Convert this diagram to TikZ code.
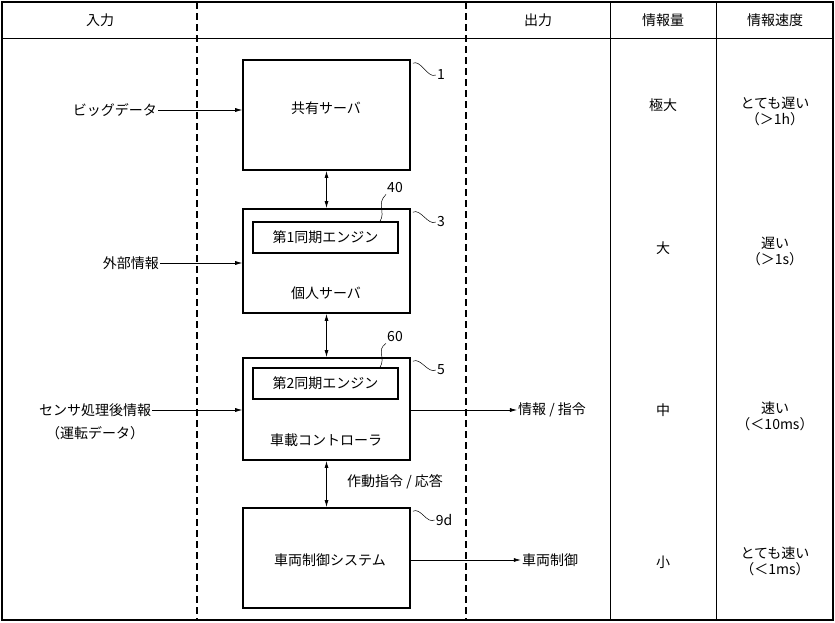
\documentclass[tikz,border=0pt]{standalone}
\usepackage{fontspec}
\setmainfont{Noto Sans CJK JP}
\usetikzlibrary{arrows.meta}
\tikzset{
  blk/.style={draw,line width=1.6pt,minimum width=167pt,inner sep=0pt},
  eng/.style={draw,line width=1.4pt,minimum width=145pt,minimum height=31pt,inner sep=0pt,font=\fontsize{14}{16}\selectfont},
  txt/.style={inner sep=1pt,font=\fontsize{14}{16}\selectfont},
  arr/.style={-{Latex[length=7pt,width=4pt]},line width=0.6pt},
  darr/.style={{Latex[length=7pt,width=4pt]}-{Latex[length=7pt,width=4pt]},line width=0.9pt},
  lead/.style={line width=0.5pt}
}
\begin{document}
\begin{tikzpicture}[x=1pt,y=-1pt]
\useasboundingbox (0,0) rectangle (835,622);
% table frame
\draw[line width=1.4pt] (2,2) rectangle (833,620);
\draw[line width=1pt] (2,38) -- (833,38);
\draw[line width=1.2pt,dash pattern=on 7pt off 4pt] (197,2) -- (197,620);
\draw[line width=1.2pt,dash pattern=on 7pt off 4pt] (466,2) -- (466,620);
\draw[line width=1pt] (610,2) -- (610,620);
\draw[line width=1pt] (716,2) -- (716,620);
% header
\node[txt] (hin) at (100,20) {入力};
\node[txt] (hout) at (538,20) {出力};
\node[txt] (hqty) at (663,20) {情報量};
\node[txt] (hspd) at (775,20) {情報速度};
% blocks
\node[blk,minimum height=110pt] (srv1) at (326.5,115) {};
\node[txt] at (326,108) {共有サーバ};
\node[blk,minimum height=104pt] (srv2) at (326.5,261) {};
\node[eng] (eng1) at (325.5,237.5) {第1同期エンジン};
\node[txt] at (326,293) {個人サーバ};
\node[blk,minimum height=102pt] (ecu) at (326.5,409) {};
\node[eng] (eng2) at (325.5,383.5) {第2同期エンジン};
\node[txt] at (326,440) {車載コントローラ};
\node[blk,minimum height=100pt] (vcs) at (326.5,558) {};
\node[txt] at (330,560) {車両制御システム};
% reference numbers
\node[txt] (n1) at (441,75) {1};
\node[txt] (n40) at (395,188) {40};
\node[txt] (n3) at (441,222) {3};
\node[txt] (n60) at (395,337) {60};
\node[txt] (n5) at (441,370) {5};
\node[txt] (n9d) at (444,520) {9d};
\draw[lead] (srv1.north east) ++(2,4) .. controls +(8,-4) and +(-8,4) .. (n1.west);
\draw[lead] (srv2.north east) ++(2,4) .. controls +(8,-4) and +(-8,4) .. (n3.west);
\draw[lead] (ecu.north east) ++(2,4) .. controls +(8,-4) and +(-8,4) .. (n5.west);
\draw[lead] (vcs.north east) ++(2,4) .. controls +(8,-4) and +(-8,4) .. (n9d.west);
\draw[lead] (eng1.north -| 380,0) .. controls (386,212) and (376,204) .. (n40.south west);
\draw[lead] (eng2.north -| 380,0) .. controls (386,358) and (376,350) .. (n60.south west);
% inputs
\node[txt,anchor=east] (big) at (158,110) {ビッグデータ};
\node[txt,anchor=east] (ext) at (160,263) {外部情報};
\node[txt] (sen) at (95,410) {センサ処理後情報};
\node[txt] (drv) at (95,433) {（運転データ）};
\draw[arr] (big.east) -- (srv1.west |- big.east);
\draw[arr] (ext.east) -- (srv2.west |- ext.east);
\draw[arr] (sen.east) -- (ecu.west |- sen.east);
% links between blocks
\draw[darr] (srv1.south) -- (srv2.north);
\draw[darr] (srv2.south) -- (ecu.north);
\draw[darr] (ecu.south) -- (vcs.north);
\node[txt] (cmd) at (395,482) {作動指令 / 応答};
% outputs
\node[txt] (out1) at (552,410) {情報 / 指令};
\node[txt] (out2) at (550,560) {車両制御};
\draw[arr] (ecu.east |- out1) -- (out1.west);
\draw[arr] (vcs.east |- out2) -- (out2.west);
% quantity and speed
\node[txt] (q1) at (663,105) {極大};
\node[txt] (q2) at (663,248) {大};
\node[txt] (q3) at (663,410) {中};
\node[txt] (q4) at (663,562) {小};
\node[txt,align=center] (s1) at (775,111) {とても遅い\\（＞1h）};
\node[txt,align=center] (s2) at (775,251) {遅い\\（＞1s）};
\node[txt,align=center] (s3) at (775,416) {速い\\（＜10ms）};
\node[txt,align=center] (s4) at (775,561) {とても速い\\（＜1ms）};
\end{tikzpicture}
\end{document}
